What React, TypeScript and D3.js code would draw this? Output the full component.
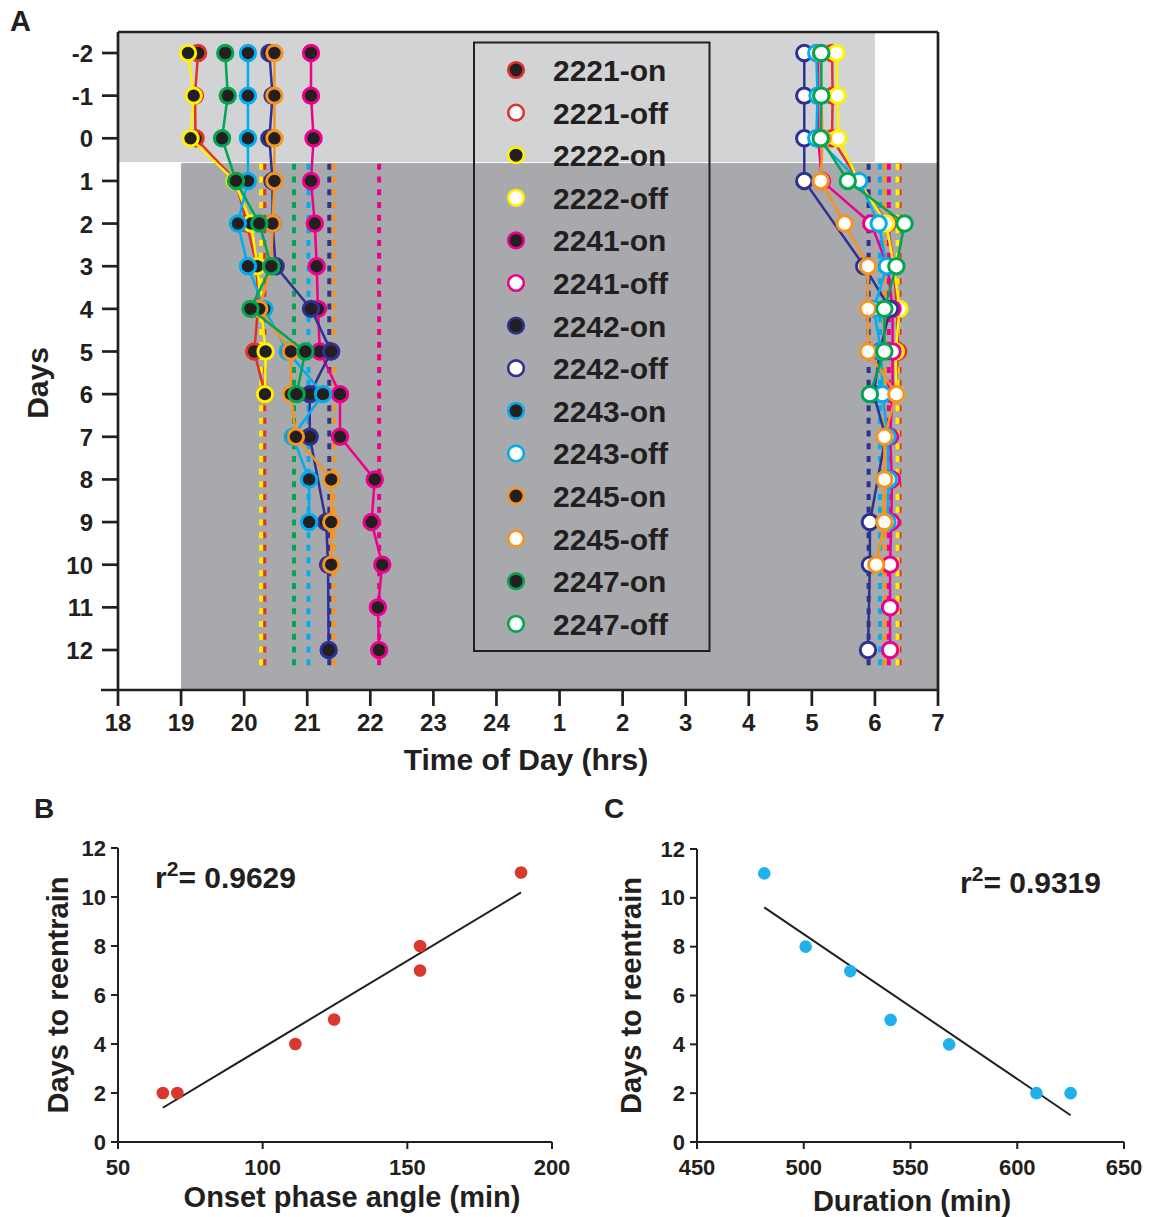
import React from 'react';
import * as d3 from 'd3';

const FONT = "'Liberation Sans', Arial, Helvetica, sans-serif";
const INK = '#231f20';

// ---------- Panel A data ----------
const DAYS = d3.range(-2, 13);
const DAY_TICKS = d3.range(-2, 13);
const HOUR_TICKS = d3.range(18, 32);
const HOUR_LABELS = HOUR_TICKS.map((h) => (h <= 24 ? String(h) : String(h - 24)));

const ANIMALS = ['2221', '2222', '2241', '2242', '2243', '2245', '2247'];
const COLORS = ['#e0322a', '#fff200', '#ec008c', '#2e3192', '#00aeef', '#f7941d', '#00a651'];

const N = null;
// onsets (hours, continuous from 18)
const ON_2221 = [19.27, 19.22, 19.23, 19.87, 20.04, 20.2, 20.22, 20.16, 20.33, N, N, N, N, N, N];
const ON_2222 = [19.11, 19.2, 19.15, 19.85, 20.11, 20.21, 20.27, 20.34, 20.33, N, N, N, N, N, N];
const ON_2241 = [21.06, 21.06, 21.1, 21.06, 21.12, 21.15, 21.17, 21.2, 21.52, 21.52, 22.07, 22.02, 22.19, 22.12, 22.14];
const ON_2242 = [20.4, 20.45, 20.4, 20.45, 20.45, 20.5, 21.06, 21.38, 21.04, 21.04, N, 21.3, 21.33, N, 21.34];
const ON_2243 = [20.06, 20.06, 20.06, 20.06, 19.9, 20.06, 20.32, 20.69, 21.25, 20.77, 21.03, 21.03, N, N, N];
const ON_2245 = [20.48, 20.48, 20.48, 20.48, 20.45, 20.43, 20.24, 20.74, 20.74, 20.82, 21.38, 21.38, 21.38, N, N];
const ON_2247 = [19.7, 19.74, 19.65, 19.87, 20.24, 20.43, 20.1, 20.97, 20.83, N, N, N, N, N, N];

// offsets (hours, continuous past 24)
const OFF_2221 = [29.32, 29.33, 29.32, 29.74, 30.2, 30.3, 30.35, 30.37, 30.32, N, N, N, N, N, N];
const OFF_2222 = [29.39, 29.41, 29.42, 29.74, 30.18, 30.3, 30.39, 30.33, 30.34, N, N, N, N, N, N];
const OFF_2241 = [29.1, 29.1, 29.1, 29.16, 29.94, 30.2, 30.28, 30.28, 30.28, 30.24, 30.27, 30.26, 30.24, 30.24, 30.24];
const OFF_2242 = [28.88, 28.88, 28.88, 28.88, N, 29.83, 30.24, 30.08, 29.98, 30.17, N, 29.92, 29.92, N, 29.89];
const OFF_2243 = [29.07, 29.09, 29.07, 29.75, 30.06, 30.19, 29.98, 30.1, 30.12, 30.2, 30.22, 30.2, N, N, N];
const OFF_2245 = [29.14, 29.15, 29.17, 29.14, 29.52, 29.89, 29.89, 29.89, 30.34, 30.15, 30.15, 30.15, 30.02, N, N];
const OFF_2247 = [29.15, 29.15, 29.14, 29.57, 30.47, 30.34, 30.15, 30.15, 29.92, N, N, N, N, N, N];

const ONSETS = [ON_2221, ON_2222, ON_2241, ON_2242, ON_2243, ON_2245, ON_2247];
const OFFSETS = [OFF_2221, OFF_2222, OFF_2241, OFF_2242, OFF_2243, OFF_2245, OFF_2247];

// stable (re-entrained) onset / offset times, dashed lines
const STABLE_ON = [20.32, 20.27, 22.14, 21.35, 21.02, 21.42, 20.79];
const STABLE_OFF = [30.39, 30.36, 30.22, 29.9, 30.08, 30.15, null];

// lighting (hours / day boundaries)
const LIGHT_SHIFT_DAY = 0.57;
const OLD_DARK = [18, 30];
const NEW_DARK = [19, 31];

// ---------- Panel B / C data ----------
const B_X = [65.5, 70.5, 111.3, 124.7, 154.4, 154.4, 189.3];
const B_Y = [2, 2, 4, 5, 8, 7, 11];
const B_R2 = '0.9629';
const C_X = [481.5, 500.9, 521.8, 540.7, 568.1, 609, 625];
const C_Y = [11, 8, 7, 5, 4, 2, 2];
const C_R2 = '0.9319';
const SCAT_Y_TICKS = [0, 2, 4, 6, 8, 10, 12];
const B_X_TICKS = [50, 100, 150, 200];
const C_X_TICKS = [450, 500, 550, 600, 650];

// draw order (bottom to top)
const Z_ORDER = [0, 1, 2, 3, 4, 5, 6];

function regression(xs: number[], ys: number[]) {
  const mx = d3.mean(xs) as number;
  const my = d3.mean(ys) as number;
  let sxy = 0;
  let sxx = 0;
  xs.forEach((x, i) => {
    sxy += (x - mx) * (ys[i] - my);
    sxx += (x - mx) * (x - mx);
  });
  const slope = sxy / sxx;
  return { slope, intercept: my - slope * mx };
}

function Scatter(props: {
  xs: number[];
  ys: number[];
  xTicks: number[];
  xDomain: [number, number];
  left: number;
  right: number;
  top: number;
  bottom: number;
  color: string;
  letter: string;
  letterX: number;
  xTitle: string;
  xTitleX: number;
  xTitleY: number;
  yTitleX: number;
  r2: string;
  r2X: number;
  r2Y: number;
}) {
  const p = props;
  const x = d3.scaleLinear().domain(p.xDomain).range([p.left, p.right]);
  const y = d3.scaleLinear().domain([0, 12]).range([p.bottom, p.top]);
  const reg = regression(p.xs, p.ys);
  const x0 = d3.min(p.xs) as number;
  const x1 = d3.max(p.xs) as number;
  const line = d3.line<number>().x((d) => x(d)).y((d) => y(reg.slope * d + reg.intercept));
  return (
    <g fontFamily={FONT} fontWeight="bold" fill={INK}>
      <text x={p.letterX} y={818} fontSize={28}>{p.letter}</text>
      <line x1={p.left} x2={p.left} y1={p.top} y2={p.bottom} stroke={INK} strokeWidth={2} />
      <line x1={p.left} x2={p.right} y1={p.bottom} y2={p.bottom} stroke={INK} strokeWidth={2} />
      {SCAT_Y_TICKS.map((t) => (
        <g key={'y' + t}>
          <line x1={p.left - 7} x2={p.left} y1={y(t)} y2={y(t)} stroke={INK} strokeWidth={2} />
          <text x={p.left - 12} y={y(t) + 7.5} fontSize={22} textAnchor="end">{t}</text>
        </g>
      ))}
      {p.xTicks.map((t) => (
        <g key={'x' + t}>
          <line x1={x(t)} x2={x(t)} y1={p.bottom} y2={p.bottom + 7} stroke={INK} strokeWidth={2} />
          <text x={x(t)} y={1175} fontSize={22} textAnchor="middle">{t}</text>
        </g>
      ))}
      <path d={line([x0, x1]) || ''} stroke={INK} strokeWidth={2} fill="none" />
      {p.xs.map((v, i) => (
        <circle key={i} cx={x(v)} cy={y(p.ys[i])} r={6.3} fill={p.color} />
      ))}
      <text x={p.xTitleX} y={p.xTitleY} fontSize={29} textAnchor="middle">{p.xTitle}</text>
      <text
        transform={`translate(${p.yTitleX},${(p.top + p.bottom) / 2}) rotate(-90)`}
        fontSize={29}
        textAnchor="middle"
      >
        Days to reentrain
      </text>
      <text x={p.r2X} y={p.r2Y} fontSize={30}>
        r<tspan fontSize={21} dy={-12}>2</tspan>
        <tspan dy={12}>= {p.r2}</tspan>
      </text>
    </g>
  );
}

export default function App() {
  const plotLeft = 118;
  const plotRight = 938;
  const plotTop = 32;
  const plotBottom = 690;
  const x = d3.scaleLinear().domain([18, 31]).range([plotLeft, plotRight]);
  const y = d3.scaleLinear().domain([-2, 12]).range([53, 650]);
  const line = d3
    .line<{ d: number; h: number }>()
    .x((p) => x(p.h))
    .y((p) => y(p.d));

  const shiftY = y(LIGHT_SHIFT_DAY);
  const dashTop = y(0.6);
  const dashBottom = y(12.45);

  const seriesPts = (arr: (number | null)[]) =>
    arr
      .map((h, i) => ({ d: DAYS[i], h: h as number }))
      .filter((p) => p.h !== null && p.h !== undefined);

  const legendItems: { label: string; color: string; filled: boolean }[] = [];
  ANIMALS.forEach((a, i) => {
    legendItems.push({ label: a + '-on', color: COLORS[i], filled: true });
    legendItems.push({ label: a + '-off', color: COLORS[i], filled: false });
  });

  return (
    <svg
      width={1155}
      height={1217}
      style={{ position: 'absolute', left: 0, top: 0, background: '#fff' }}
    >
      {/* lighting backgrounds */}
      <rect
        x={x(OLD_DARK[0])}
        y={plotTop}
        width={x(OLD_DARK[1]) - x(OLD_DARK[0])}
        height={shiftY - plotTop - 0.5}
        fill="#d1d3d4"
      />
      <rect
        x={x(NEW_DARK[0])}
        y={shiftY + 0.5}
        width={x(NEW_DARK[1]) - x(NEW_DARK[0])}
        height={plotBottom - shiftY - 0.5}
        fill="#a7a9ac"
      />

      {/* dashed stable lines */}
      {Z_ORDER.map((i) => (
        <g key={'dash' + i}>
          {STABLE_ON[i] !== null && (
            <line
              x1={x(STABLE_ON[i] as number)}
              x2={x(STABLE_ON[i] as number)}
              y1={dashTop}
              y2={dashBottom}
              stroke={COLORS[i]}
              strokeWidth={4}
              strokeDasharray="6 6.7"
            />
          )}
          {STABLE_OFF[i] !== null && (
            <line
              x1={x(STABLE_OFF[i] as number)}
              x2={x(STABLE_OFF[i] as number)}
              y1={dashTop}
              y2={dashBottom}
              stroke={COLORS[i]}
              strokeWidth={4}
              strokeDasharray="6 6.7"
            />
          )}
        </g>
      ))}

      {/* series */}
      {Z_ORDER.map((i) => {
        const on = seriesPts(ONSETS[i]);
        const off = seriesPts(OFFSETS[i]);
        return (
          <g key={'s' + i}>
            <path d={line(on) || ''} stroke={COLORS[i]} strokeWidth={2.5} fill="none" />
            <path d={line(off) || ''} stroke={COLORS[i]} strokeWidth={2.5} fill="none" />
            {on.map((p, k) => (
              <circle key={'on' + k} cx={x(p.h)} cy={y(p.d)} r={7.7} fill={INK} stroke={COLORS[i]} strokeWidth={3} />
            ))}
            {off.map((p, k) => (
              <circle key={'off' + k} cx={x(p.h)} cy={y(p.d)} r={7.7} fill="#fff" stroke={COLORS[i]} strokeWidth={3} />
            ))}
          </g>
        );
      })}

      {/* legend */}
      <rect x={474} y={42.5} width={235.5} height={608.5} fill="none" stroke={INK} strokeWidth={2} />
      {legendItems.map((it, k) => (
        <g key={'lg' + k}>
          <circle
            cx={516}
            cy={70 + k * 42.6}
            r={7.8}
            fill={it.filled ? INK : '#fff'}
            stroke={it.color}
            strokeWidth={2.6}
          />
          <text
            x={553}
            y={70 + k * 42.6 + 11}
            fontFamily={FONT}
            fontWeight="bold"
            fontSize={30}
            fill={INK}
          >
            {it.label}
          </text>
        </g>
      ))}

      {/* frame and axes */}
      <line x1={plotLeft} x2={plotRight} y1={plotTop} y2={plotTop} stroke={INK} strokeWidth={2.7} />
      <line x1={plotRight} x2={plotRight} y1={plotTop} y2={plotBottom} stroke={INK} strokeWidth={2.7} />
      <line x1={plotLeft} x2={plotLeft} y1={plotTop} y2={plotBottom} stroke={INK} strokeWidth={2.7} />
      <line x1={plotLeft - 17} x2={plotRight} y1={plotBottom} y2={plotBottom} stroke={INK} strokeWidth={2.7} />
      <g fontFamily={FONT} fontWeight="bold" fill={INK}>
        <text x={10} y={31} fontSize={29}>A</text>
        {DAY_TICKS.map((d) => (
          <g key={'dt' + d}>
            <line x1={plotLeft - 16} x2={plotLeft} y1={y(d)} y2={y(d)} stroke={INK} strokeWidth={2.7} />
            <text x={93} y={y(d) + 9} fontSize={24} textAnchor="end">{d}</text>
          </g>
        ))}
        {HOUR_TICKS.map((h, k) => (
          <g key={'ht' + h}>
            <line x1={x(h)} x2={x(h)} y1={plotBottom} y2={plotBottom + 16} stroke={INK} strokeWidth={2.7} />
            <text x={x(h)} y={731} fontSize={24} textAnchor="middle">{HOUR_LABELS[k]}</text>
          </g>
        ))}
        <text x={526} y={770} fontSize={30} textAnchor="middle">Time of Day (hrs)</text>
        <text transform={`translate(48,383) rotate(-90)`} fontSize={30} textAnchor="middle">Days</text>
      </g>

      {/* panel B */}
      <Scatter
        xs={B_X}
        ys={B_Y}
        xTicks={B_X_TICKS}
        xDomain={[50, 200]}
        left={118}
        right={552}
        top={848}
        bottom={1142}
        color="#d9382d"
        letter="B"
        letterX={34}
        xTitle="Onset phase angle (min)"
        xTitleX={352}
        xTitleY={1207}
        yTitleX={68}
        r2={B_R2}
        r2X={155}
        r2Y={888}
      />
      {/* panel C */}
      <Scatter
        xs={C_X}
        ys={C_Y}
        xTicks={C_X_TICKS}
        xDomain={[450, 650]}
        left={697}
        right={1124}
        top={849}
        bottom={1142}
        color="#1fb2ea"
        letter="C"
        letterX={604}
        xTitle="Duration (min)"
        xTitleX={912}
        xTitleY={1211}
        yTitleX={641}
        r2={C_R2}
        r2X={960}
        r2Y={893}
      />
    </svg>
  );
}
